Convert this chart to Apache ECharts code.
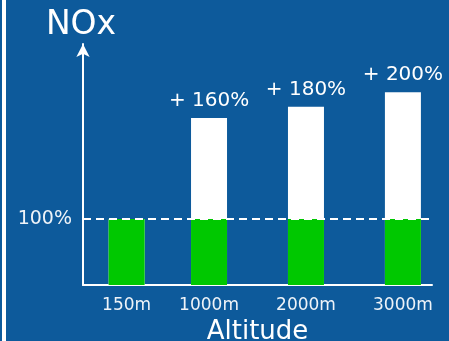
<!DOCTYPE html>
<html>
<head>
<meta charset="utf-8">
<script src="https://cdn.jsdelivr.net/npm/echarts@6/dist/echarts.min.js"></script>
<style>
  html, body { margin: 0; padding: 0; background: #0d5a9b; }
  #chart { width: 449px; height: 341px; }
</style>
</head>
<body>
<div id="chart"></div>
<script>
// altitude (m) of each bar
const altitudes = [150, 1000, 2000, 3000];
const tickLabels = ['150m', '1000m', '2000m', '3000m'];
// baseline NOx (%), green part
const baseValues = [100, 100, 100, 100];
// total bar height as drawn (%), white part shows above baseline
const totalValues = [100, 253, 270, 292];
const extraLabels = ['', '+ 160%', '+ 180%', '+ 200%'];

const font = 'DejaVu Sans';
const chart = echarts.init(document.getElementById('chart'));

chart.setOption({
  backgroundColor: '#0d5a9b',
  animation: false,
  textStyle: { fontFamily: font },
  graphic: [
    { type: 'rect', shape: { x: 2, y: 0, width: 4, height: 341 }, style: { fill: '#ffffff' } }
  ],
  grid: { left: 83, right: 17, top: 44, bottom: 56, outerBoundsMode: 'none', containLabel: false },
  xAxis: {
    type: 'value',
    min: -300,
    max: 3300,
    name: 'Altitude',
    nameLocation: 'middle',
    nameGap: 28,
    nameTextStyle: { color: '#ffffff', fontSize: 26, fontFamily: font },
    axisLine: { show: true, onZero: false, lineStyle: { color: '#ffffff', width: 2 } },
    axisTick: { show: false },
    splitLine: { show: false },
    axisLabel: {
      customValues: altitudes,
      color: '#eef3f8',
      fontSize: 17,
      margin: 12,
      fontFamily: font,
      formatter: (v) => tickLabels[altitudes.indexOf(v)] || ''
    }
  },
  yAxis: {
    type: 'value',
    min: 0,
    max: 365,
    name: 'NOx',
    nameLocation: 'end',
    nameGap: 2,
    nameTextStyle: { color: '#ffffff', fontSize: 33, fontFamily: font, padding: [0, 4, 0, 0] },
    axisLine: {
      show: true,
      onZero: false,
      symbol: ['none', 'arrow'],
      symbolSize: [10, 13],
      lineStyle: { color: '#ffffff', width: 2 }
    },
    axisTick: { show: false },
    splitLine: { show: false },
    axisLabel: {
      customValues: [100],
      color: '#eef3f8',
      fontSize: 19,
      margin: 11,
      fontFamily: font,
      formatter: (v) => v + '%'
    }
  },
  series: [
    {
      type: 'bar',
      barWidth: 36,
      barGap: '-100%',
      itemStyle: { color: '#ffffff' },
      data: altitudes.map((a, i) => [a, totalValues[i]]),
      label: {
        show: true,
        position: 'top',
        distance: 7,
        color: '#ffffff',
        fontSize: 20,
        fontFamily: font,
        formatter: (p) => extraLabels[p.dataIndex]
      }
    },
    {
      type: 'bar',
      barWidth: 36,
      barGap: '-100%',
      itemStyle: { color: '#00c800' },
      data: altitudes.map((a, i) => [a, baseValues[i]]),
      markLine: {
        silent: true,
        symbol: 'none',
        label: { show: false },
        lineStyle: { color: '#ffffff', type: [8, 5], width: 2 },
        data: [{ yAxis: 100 }]
      }
    }
  ]
});
</script>
</body>
</html>
